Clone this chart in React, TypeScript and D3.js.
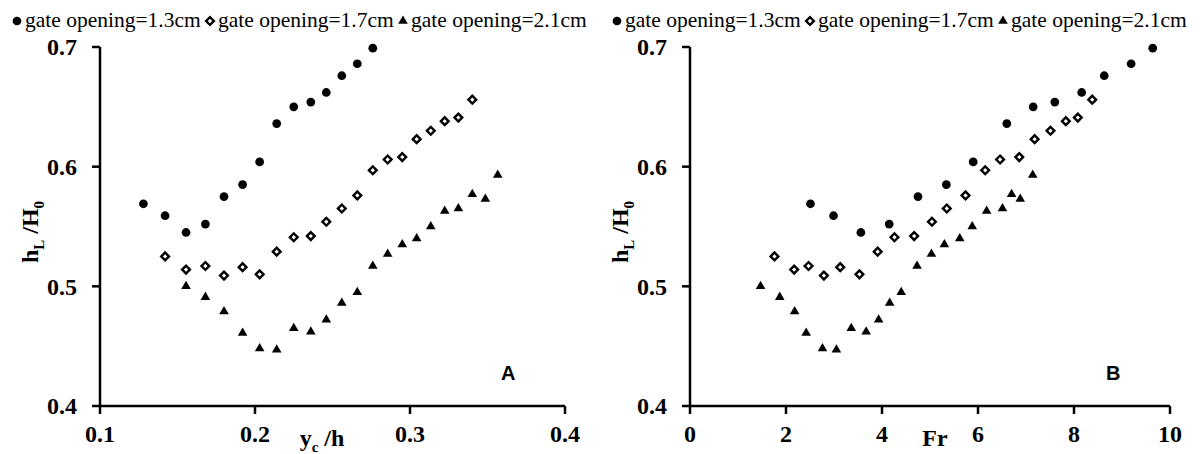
import React, { useEffect } from "react";
import * as d3 from "d3";

// ---- data ----
const legendLabels = ["gate opening=1.3cm", "gate opening=1.7cm", "gate opening=2.1cm"];

const hlG13 = [0.569, 0.559, 0.545, 0.552, 0.575, 0.585, 0.604, 0.636, 0.650, 0.654, 0.662, 0.676, 0.686, 0.699];
const ycG13 = [0.128, 0.142, 0.1555, 0.168, 0.180, 0.192, 0.203, 0.214, 0.225, 0.236, 0.246, 0.256, 0.266, 0.276];
const frG13 = [2.51, 2.99, 3.56, 4.15, 4.75, 5.34, 5.90, 6.60, 7.15, 7.60, 8.16, 8.63, 9.19, 9.64];

const hlG17 = [0.525, 0.514, 0.517, 0.509, 0.516, 0.510, 0.529, 0.541, 0.542, 0.554, 0.565, 0.576, 0.597, 0.606, 0.608, 0.623, 0.630, 0.638, 0.641, 0.656];
const ycG17 = [0.142, 0.1555, 0.168, 0.180, 0.192, 0.203, 0.214, 0.225, 0.236, 0.246, 0.256, 0.266, 0.276, 0.2856, 0.295, 0.3043, 0.3134, 0.3224, 0.3312, 0.3402];
const frG17 = [1.76, 2.17, 2.47, 2.79, 3.13, 3.53, 3.91, 4.26, 4.67, 5.04, 5.35, 5.74, 6.15, 6.46, 6.86, 7.18, 7.51, 7.83, 8.08, 8.38];

const hlG21 = [0.500, 0.491, 0.479, 0.461, 0.448, 0.447, 0.465, 0.462, 0.472, 0.486, 0.495, 0.517, 0.527, 0.535, 0.540, 0.550, 0.563, 0.565, 0.577, 0.573, 0.593];
const ycG21 = [0.1555, 0.168, 0.180, 0.192, 0.203, 0.214, 0.225, 0.236, 0.246, 0.256, 0.266, 0.276, 0.2856, 0.295, 0.3043, 0.3134, 0.3224, 0.3312, 0.3402, 0.3486, 0.3566];
const frG21 = [1.47, 1.87, 2.18, 2.42, 2.76, 3.05, 3.36, 3.67, 3.93, 4.16, 4.40, 4.73, 5.03, 5.30, 5.62, 5.88, 6.18, 6.51, 6.70, 6.88, 7.14];

const yTicks = [0.4, 0.5, 0.6, 0.7];
const xTicksA = [0.1, 0.2, 0.3, 0.4];
const xTicksB = [0, 2, 4, 6, 8, 10];

const FONT = "'Liberation Serif', 'Times New Roman', serif";

type Kind = "circle" | "diamond" | "triangle";

function markerPath(kind: Kind): string {
  if (kind === "circle") return d3.symbol(d3.symbolCircle, 60)()!;
  if (kind === "triangle") return d3.symbol(d3.symbolTriangle, 40)()!;
  return d3.symbol(d3.symbolSquare, 30)()!;
}

function Marker({ kind, x, y }: { kind: Kind; x: number; y: number }) {
  const d = markerPath(kind);
  if (kind === "diamond") {
    return (
      <path d={d} transform={`translate(${x},${y}) rotate(45)`} fill="#fff" stroke="#000" strokeWidth={2.4} />
    );
  }
  return <path d={d} transform={`translate(${x},${y})`} fill="#000" />;
}

function Panel({
  xDomain, xRange, xTicks, xFmt, series, letter, xTitle, legendX, titleX,
}: {
  xDomain: [number, number]; xRange: [number, number]; xTicks: number[]; xFmt: (v: number) => string;
  series: { kind: Kind; xs: number[]; ys: number[] }[]; letter: string; xTitle: React.ReactNode; legendX: number; titleX: number;
}) {
  const x = d3.scaleLinear().domain(xDomain).range(xRange);
  const y = d3.scaleLinear().domain([0.4, 0.7]).range([406, 47]);
  const x0 = xRange[0];
  const kinds: Kind[] = ["circle", "diamond", "triangle"];
  return (
    <g>
      {legendLabels.map((l, i) => (
        <g key={l} transform={`translate(${legendX + i * 193},0)`}>
          <Marker kind={kinds[i]} x={5} y={21} />
          <text x={13} y={27} fontFamily={FONT} fontSize={21.5} fill="#000">{l}</text>
        </g>
      ))}
      <line x1={x0} x2={x0} y1={y(0.7)} y2={y(0.4)} stroke="#000" strokeWidth={2.5} />
      <line x1={x0} x2={xRange[1]} y1={y(0.4)} y2={y(0.4)} stroke="#000" strokeWidth={2.5} />
      {yTicks.map((t) => (
        <g key={t}>
          <line x1={x0 - 8} x2={x0} y1={y(t)} y2={y(t)} stroke="#000" strokeWidth={2.5} />
          <text x={x0 - 23} y={y(t)} dy="0.35em" textAnchor="end" fontFamily={FONT} fontWeight="bold" fontSize={24}>
            {t.toFixed(1)}
          </text>
        </g>
      ))}
      {xTicks.map((t) => (
        <g key={t}>
          <line x1={x(t)} x2={x(t)} y1={y(0.4)} y2={y(0.4) + 8} stroke="#000" strokeWidth={2.5} />
          <text x={x(t)} y={y(0.4) + 28} dy="0.35em" textAnchor="middle" fontFamily={FONT} fontWeight="bold" fontSize={24}>
            {xFmt(t)}
          </text>
        </g>
      ))}
      <text x={titleX} y={y(0.4) + 32} dy="0.35em" textAnchor="middle" fontFamily={FONT} fontWeight="bold" fontSize={24}>
        {xTitle}
      </text>
      <text transform={`translate(${x0 - 70},232) rotate(-90)`} textAnchor="middle" dy="0.35em" fontFamily={FONT} fontWeight="bold" fontSize={24}>
        h<tspan fontSize={15} dy="6">L</tspan><tspan dy="-6"> /H</tspan><tspan fontSize={15} dy="6">0</tspan>
      </text>
      <text x={xRange[1] - 64} y={y(0.4) - 33} dy="0.35em" fontFamily="'Liberation Sans', Arial, sans-serif" fontWeight="bold" fontSize={20}>
        {letter}
      </text>
      {series.map((s, si) =>
        s.xs.map((v, i) => <Marker key={`${si}-${i}`} kind={s.kind} x={x(v)} y={y(s.ys[i])} />)
      )}
    </g>
  );
}

export default function App() {
  useEffect(() => {
    document.body.style.margin = "0";
  }, []);
  return (
    <svg width={1200} height={454} style={{ display: "block", background: "#fff" }}>
      <Panel
        xDomain={[0.1, 0.4]} xRange={[100, 565]} xTicks={xTicksA} xFmt={(v) => v.toFixed(1)}
        series={[
          { kind: "circle", xs: ycG13, ys: hlG13 },
          { kind: "diamond", xs: ycG17, ys: hlG17 },
          { kind: "triangle", xs: ycG21, ys: hlG21 },
        ]}
        letter="A" legendX={12} titleX={322}
        xTitle={<>y<tspan fontSize={15} dy="6">c</tspan><tspan dy="-6"> /h</tspan></>}
      />
      <Panel
        xDomain={[0, 10]} xRange={[690, 1170]} xTicks={xTicksB} xFmt={(v) => String(v)}
        series={[
          { kind: "circle", xs: frG13, ys: hlG13 },
          { kind: "diamond", xs: frG17, ys: hlG17 },
          { kind: "triangle", xs: frG21, ys: hlG21 },
        ]}
        letter="B" legendX={612} titleX={935}
        xTitle={<>Fr</>}
      />
    </svg>
  );
}
